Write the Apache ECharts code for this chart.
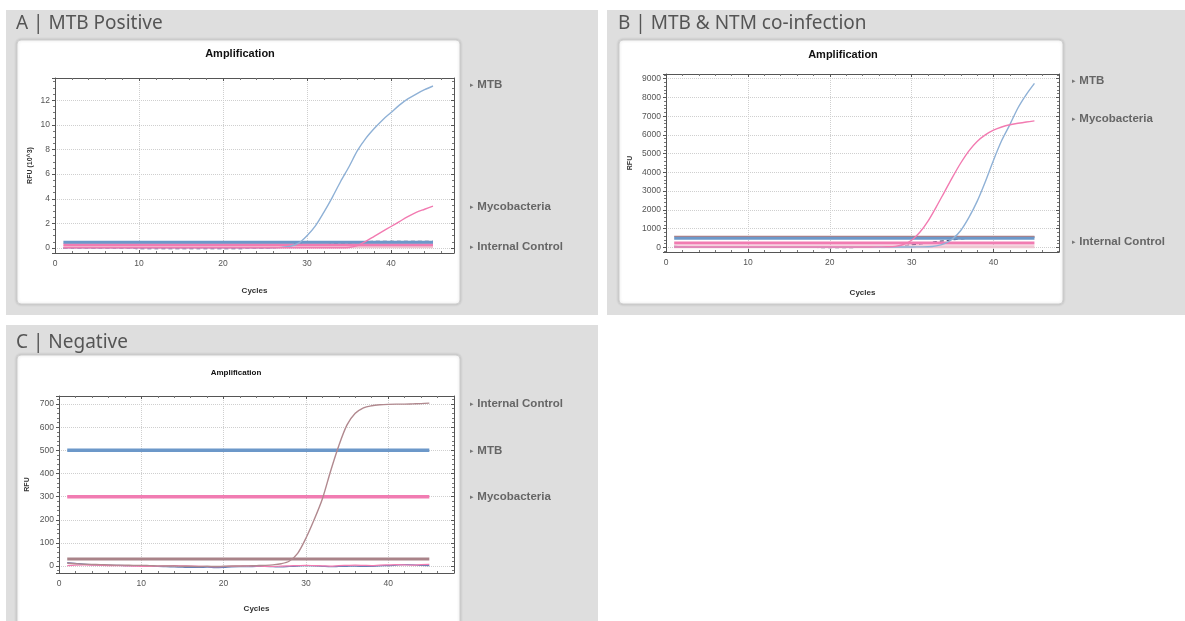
<!DOCTYPE html>
<html>
<head>
<meta charset="utf-8">
<script src="https://cdn.jsdelivr.net/npm/echarts@6/dist/echarts.min.js"></script>
<style>
html,body{margin:0;padding:0;background:#fff;}
#chart{width:1185px;height:621px;}
</style>
</head>
<body>
<div id="chart"></div>
<script>
// ---------- DATA ----------
const cycles = [1,2,3,4,5,6,7,8,9,10,11,12,13,14,15,16,17,18,19,20,21,22,23,24,25,26,27,28,29,30,31,32,33,34,35,36,37,38,39,40,41,42,43,44,45];

// Panel A – MTB Positive (RFU x10^3)
const aMtb  = [0.02,0.02,0.02,0.02,0.02,0.02,0.02,0.02,0.02,0.02,0.02,0.02,0.02,0.02,0.02,0.02,0.02,0.02,0.02,0.02,0.02,0.02,0.02,0.02,0.02,0.03,0.06,0.15,0.4,1.0,1.8,2.9,4.1,5.4,6.6,7.9,8.9,9.7,10.4,11.0,11.6,12.1,12.5,12.85,13.15];
const aMyco = [0.02,0.02,0.02,0.02,0.02,0.02,0.02,0.02,0.02,0.02,0.02,0.02,0.02,0.02,0.02,0.02,0.02,0.02,0.02,0.02,0.02,0.02,0.02,0.02,0.02,0.02,0.02,0.02,0.02,0.02,0.02,0.02,0.02,0.02,0.05,0.2,0.55,0.95,1.35,1.75,2.15,2.55,2.9,3.15,3.4];
const aIc   = [0.0,0.0,0.0,0.0,0.0,0.0,0.0,0.0,0.0,-0.05,-0.05,-0.05,-0.05,-0.05,-0.05,-0.05,-0.05,-0.05,-0.05,-0.05,-0.05,-0.05,0.0,0.0,0.0,0.02,0.1,0.25,0.45,0.05,0.1,0.2,0.35,0.4,0.4,0.45,0.5,0.55,0.55,0.55,0.55,0.55,0.55,0.55,0.55];
const aThresholds = [0.48, 0.27, 0.1]; // MTB, Mycobacteria, Internal Control

// Panel B – MTB & NTM co-infection (RFU)
const bMtb  = [20,15,10,10,10,10,10,10,10,10,10,10,10,10,10,10,10,10,10,10,10,10,10,10,10,10,10,15,20,20,25,30,80,200,450,900,1600,2450,3500,4650,5700,6550,7450,8150,8750];
const bMyco = [20,20,20,20,20,20,20,20,20,20,20,20,20,20,20,20,20,20,20,20,20,20,20,20,20,25,30,50,150,380,800,1400,2150,2950,3750,4500,5150,5650,6000,6250,6420,6540,6620,6690,6750];
const bIc   = [60,20,0,0,0,0,0,0,0,0,0,0,0,0,0,0,0,0,-20,-20,-20,-20,-10,0,0,0,10,40,80,130,180,240,300,350,400,450,480,500,520,530,540,540,540,540,540];
const bThresholds = [480, 230, 30, 580]; // MTB, Mycobacteria, Internal Control, extra

// Panel C – Negative (RFU)
const cIc   = [12,10,8,7,6,5,4,4,3,3,2,1,0,0,-1,-1,-2,-1,-2,-1,0,0,1,2,3,5,10,22,55,120,200,290,410,520,610,660,684,693,697,699,700,700,701,702,704];
const cMtb  = [15,12,8,6,5,4,3,2,2,1,0,-2,-3,-4,-5,-6,-6,-5,-7,-6,-4,-3,-3,-2,-2,-3,-4,-2,0,2,1,-1,-3,-2,-1,0,-2,-1,1,2,4,6,5,3,2];
const cMyco = [2,4,5,4,3,2,2,1,0,-1,-2,0,1,2,1,0,-1,-2,-3,-2,-1,0,1,0,-1,-2,0,1,2,3,2,1,0,2,3,4,3,2,4,5,6,5,4,6,7];
const cThresholds = [500, 300, 30]; // MTB, Mycobacteria, Internal Control

const panelTitles = ['A | MTB Positive', 'B | MTB & NTM co-infection', 'C | Negative'];
const chartTitle = 'Amplification';
const axisNames = ['RFU (10^3)', 'RFU', 'RFU'];
const xName = 'Cycles';
const aLabels = ['MTB', 'Mycobacteria', 'Internal Control'];
const bLabels = ['MTB', 'Mycobacteria', 'Internal Control'];
const cLabels = ['Internal Control', 'MTB', 'Mycobacteria'];

// ---------- STYLE / LAYOUT ----------
const COL = {
  blueCurve: '#8fb1d6', blueThr: '#6c98c9',
  pinkCurve: '#f27bb1', pinkThr: '#f17cb2',
  mauve: '#b1898f', mauveThr: '#a98389',
  navy: '#4b5079', lightPink: '#efc6d2', brown: '#b37c7c'
};
const grids = [
  {left: 55, top: 78, width: 399, height: 175, ymin: -0.4, ymax: 13.8, ymi: 2, yminor: 4, xmax: 47.5, yGap: 21, xGap: 34},
  {left: 666, top: 74, width: 393, height: 178, ymin: -250, ymax: 9250, ymi: 1000, yminor: 5, xmax: 48, yGap: 32, xGap: 37},
  {left: 59, top: 396, width: 395, height: 177, ymin: -30, ymax: 735, ymi: 100, yminor: 5, xmax: 48, yGap: 28, xGap: 32}
];
const FONT = '"Liberation Sans", Arial, sans-serif';

function pts(arr){ return cycles.map((c,i)=>[c, arr[i]]); }
function thr(v){ return [[cycles[0], v],[cycles[cycles.length-1], v]]; }
function line(g, data, color, width, z, extra){
  return Object.assign({type:'line', xAxisIndex:g, yAxisIndex:g, data:data, showSymbol:false, symbol:'none',
    smooth:0.3, lineStyle:{color:color, width:width}, itemStyle:{color:color}, z:z, silent:true, animation:false}, extra||{});
}

const xAxes = [], yAxes = [];
grids.forEach((g,i)=>{
  xAxes.push({gridIndex:i, type:'value', min:0, max:g.xmax, interval:10, position:'bottom',
    name: xName, nameLocation:'middle', nameGap: g.xGap,
    nameTextStyle:{fontFamily:FONT, fontSize:8, fontWeight:'bold', color:'#333'},
    axisLine:{show:true, onZero:false, lineStyle:{color:'#555'}},
    axisTick:{show:true, inside:true, length:3, lineStyle:{color:'#555'}},
    minorTick:{show:true, splitNumber:5, length:2, lineStyle:{color:'#777'}},
    axisLabel:{fontFamily:FONT, fontSize:8.5, color:'#555', margin:6, showMaxLabel:false},
    splitLine:{show:true, lineStyle:{color:'#cfcfcf', type:'dotted'}}
  });
  yAxes.push({gridIndex:i, type:'value', min:g.ymin, max:g.ymax, splitNumber:7, minInterval:g.ymi, maxInterval:g.ymi,
    name: axisNames[i], nameLocation:'middle', nameRotate:90, nameGap: g.yGap,
    nameTextStyle:{fontFamily:FONT, fontSize:7, fontWeight:'bold', color:'#333'},
    axisLine:{show:true, onZero:false, lineStyle:{color:'#555'}},
    axisTick:{show:true, inside:false, length:3, lineStyle:{color:'#555'}},
    minorTick:{show:true, splitNumber:g.yminor, length:2, lineStyle:{color:'#777'}},
    axisLabel:{fontFamily:FONT, fontSize:8.5, color:'#555', margin:5, showMinLabel:false, showMaxLabel:false,
      formatter: v => String(v)},
    splitLine:{show:true, lineStyle:{color:'#cfcfcf', type:'dotted'}}
  });
});
// top / right frame axes with ticks
grids.forEach((g,i)=>{
  xAxes.push({gridIndex:i, type:'value', min:0, max:g.xmax, interval:10, position:'top',
    axisLine:{show:true, onZero:false, lineStyle:{color:'#555'}},
    axisTick:{show:true, inside:true, length:3, lineStyle:{color:'#555'}},
    minorTick:{show:true, splitNumber:5, length:2, lineStyle:{color:'#777'}},
    axisLabel:{show:false}, splitLine:{show:false}});
  yAxes.push({gridIndex:i, type:'value', min:g.ymin, max:g.ymax, splitNumber:7, minInterval:g.ymi, maxInterval:g.ymi, position:'right',
    axisLine:{show:true, onZero:false, lineStyle:{color:'#555'}},
    axisTick:{show:true, inside:true, length:3, lineStyle:{color:'#555'}},
    minorTick:{show:true, splitNumber:g.yminor, length:2, lineStyle:{color:'#777'}},
    axisLabel:{show:false}, splitLine:{show:false}});
});

const series = [
  // Panel A
  line(0, pts(aIc), COL.navy, 1.2, 3, {lineStyle:{color:COL.navy, width:1.2, type:[4,3]}}),
  line(0, thr(aThresholds[2]), COL.lightPink, 3, 4),
  line(0, thr(aThresholds[1]), COL.pinkThr, 3, 5),
  line(0, thr(aThresholds[0]), COL.blueThr, 3, 5),
  line(0, pts(aMtb), COL.blueCurve, 1.4, 6),
  line(0, pts(aMyco), COL.pinkCurve, 1.4, 6),
  // Panel B
  line(1, pts(bIc), COL.navy, 1.2, 3, {lineStyle:{color:COL.navy, width:1.2, type:[4,3]}}),
  line(1, thr(bThresholds[3]), COL.brown, 1.2, 4),
  line(1, thr(bThresholds[2]), COL.lightPink, 3, 4),
  line(1, thr(bThresholds[1]), COL.pinkThr, 3, 5),
  line(1, thr(bThresholds[0]), COL.blueThr, 3, 5),
  line(1, pts(bMtb), COL.blueCurve, 1.4, 6),
  line(1, pts(bMyco), COL.pinkCurve, 1.4, 6),
  // Panel C
  line(2, thr(cThresholds[0]), COL.blueThr, 3.5, 4),
  line(2, thr(cThresholds[1]), COL.pinkThr, 3.5, 4),
  line(2, thr(cThresholds[2]), COL.mauveThr, 3, 4),
  line(2, pts(cMtb), '#6a7fb5', 1.2, 5),
  line(2, pts(cMyco), COL.pinkCurve, 1.2, 5),
  line(2, pts(cIc), COL.mauve, 1.4, 6)
];

function panelText(x, y, s){
  return {type:'text', left:x, top:y, z:1, style:{text:s, font:'19px "Noto Sans", "Open Sans", sans-serif', fill:'#555'}};
}
function sideLabel(x, y, s){
  return {type:'text', left:x, top:y-7, z:1, style:{rich:{a:{fontSize:7, fill:'#777', fontFamily:FONT}, b:{fontSize:11.5, fontWeight:'bold', fill:'#666', fontFamily:FONT}}, text:'{a|▸} {b|'+s+'}'}};
}
function centerTitle(cx, y, s, size){
  return {type:'text', x:cx, y:y, z:1, style:{text:s, font:'bold '+size+'px '+FONT, fill:'#111', textAlign:'center', textVerticalAlign:'middle'}};
}

const graphic = [
  {type:'rect', shape:{x:6, y:10, width:592, height:305}, style:{fill:'#dedede'}, z:-10},
  {type:'rect', shape:{x:607, y:10, width:578, height:305}, style:{fill:'#dedede'}, z:-10},
  {type:'rect', shape:{x:6, y:325, width:592, height:296}, style:{fill:'#dedede'}, z:-10},
  {type:'rect', shape:{x:17, y:40, width:443, height:264, r:4}, style:{fill:'#fff', stroke:'#cfcfcf', lineWidth:1, shadowBlur:3, shadowColor:'rgba(0,0,0,0.18)'}, z:-9},
  {type:'rect', shape:{x:619, y:40, width:444, height:264, r:4}, style:{fill:'#fff', stroke:'#cfcfcf', lineWidth:1, shadowBlur:3, shadowColor:'rgba(0,0,0,0.18)'}, z:-9},
  {type:'rect', shape:{x:17, y:355, width:443, height:272, r:4}, style:{fill:'#fff', stroke:'#cfcfcf', lineWidth:1, shadowBlur:3, shadowColor:'rgba(0,0,0,0.18)'}, z:-9},
  panelText(16, 14, panelTitles[0]),
  panelText(618, 14, panelTitles[1]),
  panelText(16, 333, panelTitles[2]),
  centerTitle(240, 54, chartTitle, 11),
  centerTitle(843, 55, chartTitle, 11),
  centerTitle(236, 373, chartTitle, 8),
  sideLabel(470, 86, aLabels[0]), sideLabel(470, 208, aLabels[1]), sideLabel(470, 248, aLabels[2]),
  sideLabel(1072, 82, bLabels[0]), sideLabel(1072, 120, bLabels[1]), sideLabel(1072, 243, bLabels[2]),
  sideLabel(470, 405, cLabels[0]), sideLabel(470, 452, cLabels[1]), sideLabel(470, 498, cLabels[2])
];

const chart = echarts.init(document.getElementById('chart'), null, {renderer:'canvas'});
chart.setOption({
  animation:false,
  backgroundColor:'#ffffff',
  grid: grids.map(g=>({left:g.left, top:g.top, width:g.width, height:g.height, show:false, containLabel:false})),
  xAxis: xAxes,
  yAxis: yAxes,
  series: series,
  graphic: graphic
});
</script>
</body>
</html>
